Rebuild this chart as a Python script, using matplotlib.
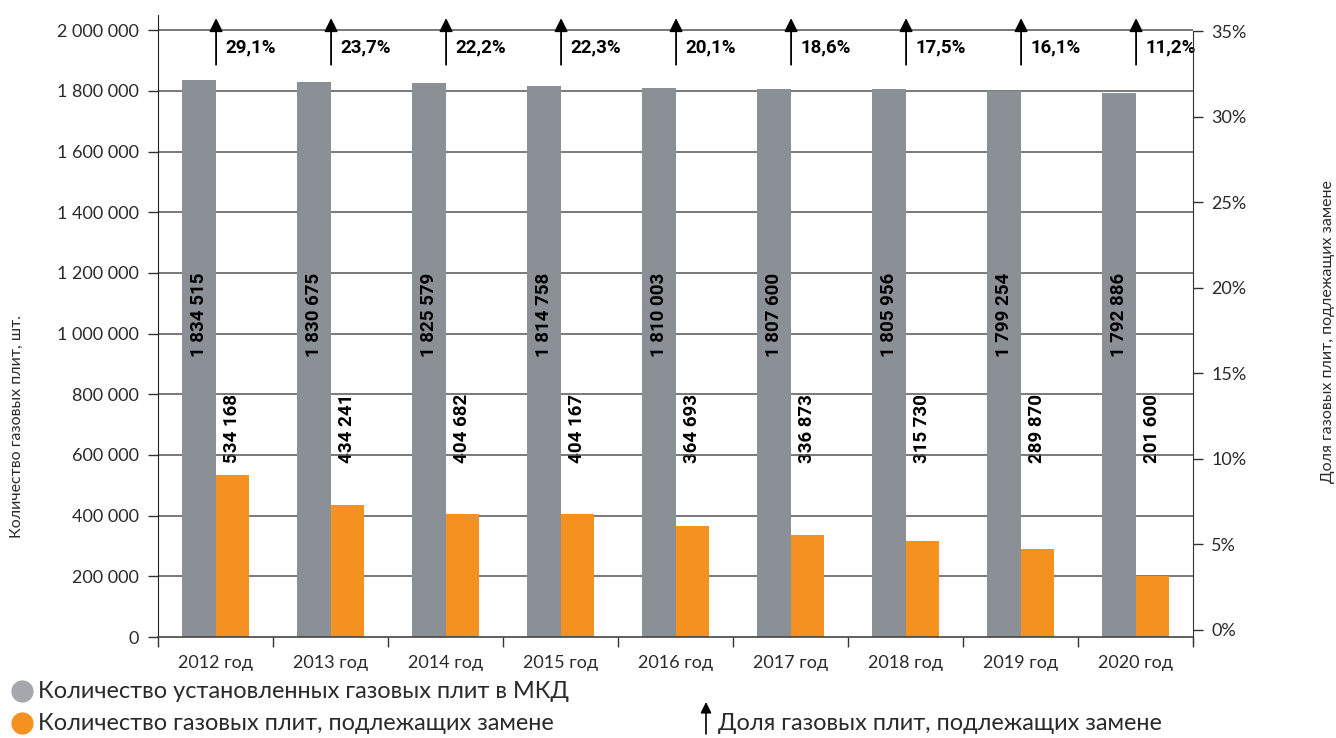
import numpy as np
import matplotlib
matplotlib.use("Agg")
import matplotlib.pyplot as plt
from matplotlib.lines import Line2D
from matplotlib.patches import FancyArrowPatch

years = ["2012 год", "2013 год", "2014 год", "2015 год", "2016 год",
         "2017 год", "2018 год", "2019 год", "2020 год"]
installed = [1834515, 1830675, 1825579, 1814758, 1810003,
             1807600, 1805956, 1799254, 1792886]
to_replace = [534168, 434241, 404682, 404167, 364693,
              336873, 315730, 289870, 201600]
share = [29.1, 23.7, 22.2, 22.3, 20.1, 18.6, 17.5, 16.1, 11.2]

GRAY = "#8b9096"
ORANGE = "#f59120"
TXT = "#2a2a2a"
LIGHT = dict(family="Lato", fontweight="normal")
BOLD = dict(family="Roboto", fontweight="bold")

def fmt(v):
    return f"{v:,}".replace(",", " ")

W, H = 1336, 738
fig = plt.figure(figsize=(W / 100, H / 100), dpi=100)

# main axis box in pixels: x 158..1193, y 15..637
ax = fig.add_axes([158 / W, 1 - 637 / H, (1193 - 158) / W, (637 - 15) / H])
x = np.arange(len(years))
bw = 0.29
ax.bar(x - bw / 2, installed, bw, color=GRAY, zorder=2)
ax.bar(x + bw / 2, to_replace, bw, color=ORANGE, zorder=2)

ax.set_xlim(-0.5, len(years) - 0.5)
ax.set_ylim(0, 2050000)
yt = np.arange(0, 2000001, 200000)
ax.set_yticks(yt)
ax.set_yticklabels([fmt(v) for v in yt], fontsize=13, color=TXT, **LIGHT)
ax.tick_params(axis="y", length=7, width=1, pad=7, color="#333333")
for v in yt[1:]:
    ax.axhline(v, color="#555555", lw=1.1, zorder=1)

ax.set_xticks(x)
ax.set_xticklabels(years, fontsize=13, color=TXT, **LIGHT)
ax.set_xticks(np.arange(len(years) + 1) - 0.5, minor=True)
ax.tick_params(axis="x", which="major", length=0, pad=13)
ax.tick_params(axis="x", which="minor", length=7, width=1, color="#333333")

for s in ["top", "right"]:
    ax.spines[s].set_visible(False)
ax.spines["left"].set_color("#222222")
ax.spines["bottom"].set_color("#444444")
ax.spines["bottom"].set_linewidth(1.2)

# value labels, arrows and shares
for i in range(len(years)):
    ax.text(i - bw / 2, 1200000, fmt(installed[i]), rotation=90,
            ha="center", va="top", fontsize=13.5, color="black", zorder=3, **BOLD)
    ax.text(i + bw / 2, 573000, fmt(to_replace[i]), rotation=90,
            ha="center", va="bottom", fontsize=13.5, color="black", zorder=0, **BOLD)
    ax.annotate("", xy=(i + 0.005, 0.995), xytext=(i + 0.005, 0.92),
                xycoords=("data", "axes fraction"),
                arrowprops=dict(arrowstyle="-|>", mutation_scale=20, lw=1.3,
                                color="black", shrinkA=0, shrinkB=0))
    ax.text(i + 0.09, 0.9486, f"{share[i]:.1f}%".replace(".", ","),
            transform=ax.get_xaxis_transform(), ha="left", va="center",
            fontsize=13.5, color="black", **BOLD)

fig.text(17 / W, 1 - 427 / H, "Количество газовых плит, шт.",
         rotation=90, ha="center", va="center", fontsize=11.5, color=TXT, **LIGHT)

# right axis: 0% at y=630, 35% at y=31
ax2 = fig.add_axes([158 / W, 1 - 643 / H, (1193 - 158) / W, (643 - 31) / H])
ax2.patch.set_visible(False)
ax2.set_xlim(0, 1)
ax2.set_ylim(-13 * 35 / 599, 35)
ax2.set_xticks([])
for s in ["top", "left", "bottom"]:
    ax2.spines[s].set_visible(False)
ax2.spines["right"].set_color("#333333")
ax2.yaxis.tick_right()
pt = np.arange(0, 36, 5)
ax2.set_yticks(pt)
ax2.set_yticklabels([f"{v}%" for v in pt], fontsize=13, color=TXT, **LIGHT)
ax2.tick_params(axis="y", length=7, width=1, pad=6, color="#333333")
fig.text(1328 / W, 1 - 332 / H, "Доля газовых плит, подлежащих замене",
         rotation=90, ha="center", va="center", fontsize=11.5, color=TXT, **LIGHT)

# legend
fig.add_artist(Line2D([22 / W], [1 - 691 / H], marker="o", markersize=15,
                      color="#a4a8ad", transform=fig.transFigure))
fig.add_artist(Line2D([22 / W], [1 - 723 / H], marker="o", markersize=15,
                      color=ORANGE, transform=fig.transFigure))
fig.text(38 / W, 1 - 692 / H, "Количество установленных газовых плит в МКД",
         ha="left", va="center", fontsize=16.9, color=TXT, **LIGHT)
fig.text(38 / W, 1 - 724 / H, "Количество газовых плит, подлежащих замене",
         ha="left", va="center", fontsize=16.9, color=TXT, **LIGHT)
fig.add_artist(FancyArrowPatch(
    (706 / W, 1 - 734 / H), (706 / W, 1 - 702 / H), transform=fig.transFigure,
    arrowstyle="-|>", mutation_scale=16, lw=1.2, color="black",
    shrinkA=0, shrinkB=0))
fig.text(718 / W, 1 - 724 / H, "Доля газовых плит, подлежащих замене",
         ha="left", va="center", fontsize=16.9, color=TXT, **LIGHT)

fig.savefig("out.png", dpi=100)
